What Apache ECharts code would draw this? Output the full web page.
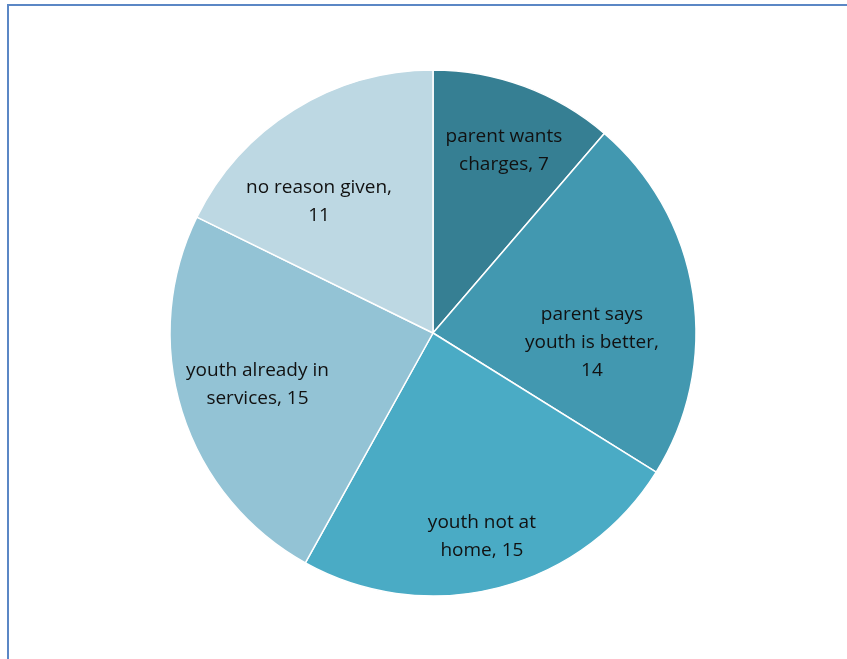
<!DOCTYPE html>
<html>
<head>
<meta charset="utf-8">
<script src="https://cdn.jsdelivr.net/npm/echarts@6/dist/echarts.min.js"></script>
<style>
  html, body { margin: 0; padding: 0; background: #fff; }
  #chart { width: 847px; height: 659px; }
</style>
</head>
<body>
<div id="chart"></div>
<script>
// Reasons given, clockwise from 12 o'clock
const categories = [
  'parent wants\ncharges',
  'parent says\nyouth is better',
  'youth not at\nhome',
  'youth already in\nservices',
  'no reason given'
];
const counts = [7, 14, 15, 15, 11];
// whether the count sits on its own line under the name
const countOnOwnLine = [false, true, false, false, true];
const sliceColors = ['#367f93', '#4298b0', '#4aabc5', '#93c3d5', '#bdd8e3'];
// small best-fit nudges for the labels, in px
const labelNudge = [[6, -7], [-26, 38], [2, 22], [3, -4], [-15, 27]];

const pieData = categories.map((name, i) => ({
  name: name,
  value: counts[i],
  itemStyle: { color: sliceColors[i] }
}));

const center = [433, 333];
const R = 263;

const chart = echarts.init(document.getElementById('chart'));
chart.setOption({
  backgroundColor: '#ffffff',
  animation: false,
  graphic: [{
    type: 'rect',
    shape: { x: 8, y: 5, width: 900, height: 700 },
    style: { fill: 'none', stroke: '#5b87c5', lineWidth: 2 },
    silent: true
  }],
  series: [
    {
      type: 'pie',
      center: center,
      radius: [0, R],
      startAngle: 90,
      clockwise: true,
      data: pieData,
      label: { show: false },
      labelLine: { show: false },
      itemStyle: { borderColor: '#ffffff', borderWidth: 1.5 },
      silent: true
    },
    {
      // transparent ring that carries the slice labels further out
      type: 'pie',
      center: center,
      radius: [R * 0.4, R],
      startAngle: 90,
      clockwise: true,
      data: pieData.map(d => ({ name: d.name, value: d.value, itemStyle: { color: 'rgba(0,0,0,0)' } })),
      itemStyle: { borderWidth: 0 },
      labelLine: { show: false },
      label: {
        show: true,
        position: 'inside',
        color: '#111',
        fontFamily: 'Open Sans',
        fontSize: 19,
        lineHeight: 28,
        align: 'center',
        formatter: p => p.name + (countOnOwnLine[p.dataIndex] ? ',\n' : ', ') + p.value
      },
      labelLayout: p => ({ dx: labelNudge[p.dataIndex][0], dy: labelNudge[p.dataIndex][1] }),
      silent: true,
      z: 3
    }
  ]
});
</script>
</body>
</html>
